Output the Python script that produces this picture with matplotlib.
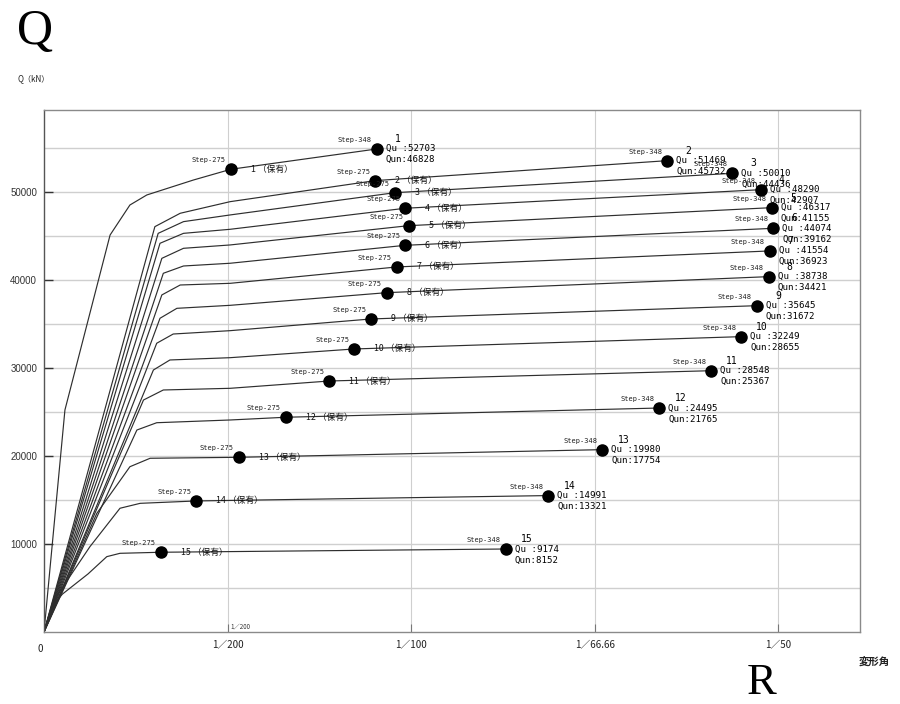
import matplotlib.pyplot as plt

plt.rcParams['font.family'] = ['Noto Sans CJK JP', 'DejaVu Sans']

stories = list(range(1, 16))

# rising part of each story curve before the Step-275 point (drift angle, Q kN)
pre_r = [
    [0.00057, 0.00180, 0.00234, 0.00280, 0.00407],
    [0.00302, 0.00371, 0.00507],
    [0.00311, 0.00380, 0.00507],
    [0.00316, 0.00380, 0.00507],
    [0.00321, 0.00380, 0.00507],
    [0.00325, 0.00380, 0.00507],
    [0.00321, 0.00371, 0.00507],
    [0.00316, 0.00362, 0.00507],
    [0.00307, 0.00352, 0.00507],
    [0.00298, 0.00343, 0.00507],
    [0.00271, 0.00325, 0.00507],
    [0.00253, 0.00307, 0.00507],
    [0.00144, 0.00234, 0.00289],
    [0.00030, 0.00125, 0.00207, 0.00262],
    [0.00020, 0.00050, 0.00120, 0.00171, 0.00207],
]
pre_q = [
    [25230, 45110, 48520, 49660, 51360],
    [46060, 47580, 48900],
    [45300, 46630, 47390],
    [44170, 45300, 45760],
    [42460, 43600, 43980],
    [40760, 41590, 41900],
    [38300, 39430, 39620],
    [35650, 36780, 37120],
    [32810, 33860, 34240],
    [29770, 30910, 31170],
    [26360, 27500, 27690],
    [22950, 23780, 24090],
    [13490, 18780, 19740],
    [3800, 9690, 14060, 14620],
    [2800, 4300, 6600, 8560, 8940],
]

# Step-275 (保有) points
step275_r = [0.00509, 0.00902, 0.00956, 0.00984, 0.00993, 0.00984, 0.00961,
             0.00934, 0.00891, 0.00845, 0.00777, 0.00658, 0.00531, 0.00415,
             0.00318]
step275_q = [52580, 51290, 49920, 48150, 46170, 43940, 41480, 38560, 35570,
             32160, 28520, 24400, 19850, 14890, 9060]

# Step-348 (final) points
step348_r = [0.00907, 0.01698, 0.01875, 0.01952, 0.01983, 0.01986, 0.01977,
             0.01974, 0.01942, 0.01899, 0.01817, 0.01676, 0.01521, 0.01374,
             0.01258]
step348_q = [54890, 53560, 52120, 50260, 48220, 45870, 43300, 40380, 37080,
             33560, 29690, 25450, 20720, 15500, 9430]

qu = [52703, 51469, 50010, 48290, 46317, 44074, 41554, 38738, 35645, 32249,
      28548, 24495, 19980, 14991, 9174]
qun = [46828, 45732, 44436, 42907, 41155, 39162, 36923, 34421, 31672, 28655,
       25367, 21765, 17754, 13321, 8152]

x_ticks = [0.005, 0.01, 0.015, 0.02]
x_labels = ['1／200', '1／100', '1／66.66', '1／50']
y_ticks = [10000, 20000, 30000, 40000, 50000]
y_grid = list(range(5000, 60000, 5000))

fig = plt.figure(figsize=(9, 7.04), dpi=100)
ax = fig.add_axes([0.0489, 0.1023, 0.9067, 0.7415])
ax.set_xlim(0, 0.02223)
ax.set_ylim(0, 59320)

for y in y_grid:
    ax.axhline(y, color='#cfcfcf', lw=1.0, zorder=0)
for x in x_ticks:
    ax.axvline(x, color='#cfcfcf', lw=0.8, zorder=0)

for sp in ax.spines.values():
    sp.set_color('#8a8a8a')
    sp.set_linewidth(1.0)
ax.spines['left'].set_color('#555555')

mono = 'DejaVu Sans Mono'
for i in range(len(stories)):
    rs = [0] + pre_r[i] + [step275_r[i], step348_r[i]]
    qs = [0] + pre_q[i] + [step275_q[i], step348_q[i]]
    ax.plot(rs, qs, color='#2e2e2e', lw=0.85, zorder=2)
    ax.plot([step275_r[i], step348_r[i]], [step275_q[i], step348_q[i]], 'o',
            color='black', ms=8, zorder=3)

    # Step-275 labels
    ax.annotate('Step-275', (step275_r[i], step275_q[i]), xytext=(-5, 9),
                textcoords='offset pixels', ha='right', va='center',
                fontsize=5, family=mono, color='#222222', zorder=4)
    ax.annotate(f'{stories[i]} （保有）', (step275_r[i], step275_q[i]),
                xytext=(20, 0), textcoords='offset pixels', ha='left',
                va='center', fontsize=6.3, color='#111111', zorder=4)

    # Step-348 labels
    ax.annotate('Step-348', (step348_r[i], step348_q[i]), xytext=(-5, 9),
                textcoords='offset pixels', ha='right', va='center',
                fontsize=5, family=mono, color='#222222', zorder=4)
    ax.annotate(str(stories[i]), (step348_r[i], step348_q[i]),
                xytext=(21, 10), textcoords='offset pixels', ha='center',
                va='center', fontsize=7, family=mono, zorder=4)
    ax.annotate(f'Qu :{qu[i]}', (step348_r[i], step348_q[i]),
                xytext=(9, 0), textcoords='offset pixels', ha='left',
                va='center', fontsize=6.6, family=mono, zorder=4)
    ax.annotate(f'Qun:{qun[i]}', (step348_r[i], step348_q[i]),
                xytext=(9, -11), textcoords='offset pixels', ha='left',
                va='center', fontsize=6.6, family=mono, zorder=4)

ax.set_yticks(y_ticks)
ax.set_yticklabels([str(v) for v in y_ticks], family='Liberation Sans',
                   fontsize=7, color='#333333')
ax.tick_params(axis='y', direction='in', length=6.5, width=1.0,
               color='#333333', pad=5)
ax.set_xticks(x_ticks)
ax.set_xticklabels(x_labels, fontsize=7, color='#222222')
ax.tick_params(axis='x', direction='in', length=5.5, width=0.8,
               color='#777777', pad=6)

# small marker text at the 1/200 line
ax.annotate('1／200', (0.005, 0), xytext=(3, 2), textcoords='offset pixels',
            ha='left', va='bottom', fontsize=4.5, color='#333333')

fig.text(40 / 900, 1 - 649 / 704, '0', ha='center', va='center',
         fontsize=7, color='#222222')
fig.text(17 / 900, 1 - 32 / 704, 'Q', ha='left', va='center',
         fontsize=36, family='Liberation Serif')
fig.text(18 / 900, 1 - 79 / 704, 'Q（kN）', ha='left', va='center',
         fontsize=5.8, color='#222222')
fig.text(874 / 900, 1 - 662 / 704, '変形角', ha='center', va='center',
         fontsize=7.5, color='#222222', weight='bold')
fig.text(762 / 900, 1 - 683 / 704, 'R', ha='center', va='center',
         fontsize=32, family='Liberation Serif')

fig.savefig('out.png', dpi=100)
